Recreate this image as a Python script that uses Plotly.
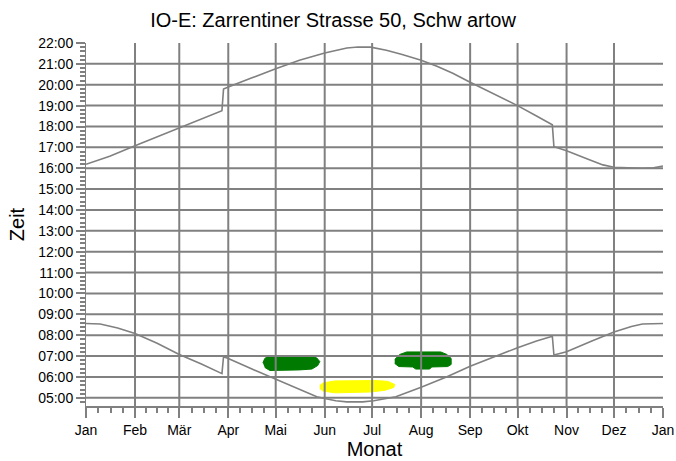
import plotly.graph_objects as go

# Month starts (day of year) and their labels
month_starts = [0, 31, 59, 90, 120, 151, 181, 212, 243, 273, 304, 334, 365]
month_labels = ["Jan", "Feb", "Mär", "Apr", "Mai", "Jun", "Jul", "Aug", "Sep", "Okt", "Nov", "Dez", "Jan"]

# Hour ticks on the time axis
hour_ticks = list(range(5, 23))
hour_labels = [f"{h:02d}:00" for h in hour_ticks]

# Sunset (day of year, hour) incl. daylight-saving jumps
sunset_day = [0, 15, 31, 45, 59, 73, 86, 87, 90, 105, 120, 135, 151, 165, 172, 180, 190, 200,
              212, 222, 232, 243, 258, 273, 285, 295, 296, 304, 316, 327, 334, 345, 352, 359, 362, 365]
sunset_hour = [16.19, 16.58, 17.08, 17.50, 17.95, 18.36, 18.76, 19.79, 19.89, 20.33, 20.77, 21.17,
               21.52, 21.76, 21.81, 21.80, 21.65, 21.45, 21.17, 20.89, 20.55, 20.12, 19.58, 19.00,
               18.50, 18.08, 17.03, 16.84, 16.48, 16.16, 16.05, 16.00, 16.00, 16.02, 16.08, 16.11]

# Sunrise (day of year, hour)
sunrise_day = [0, 9, 20, 31, 45, 59, 73, 86, 87, 90, 105, 120, 135, 146, 151, 158, 165, 175, 182,
               190, 196, 212, 228, 243, 258, 273, 285, 295, 296, 304, 320, 334, 345, 352, 365]
sunrise_hour = [8.56, 8.54, 8.35, 8.08, 7.62, 7.08, 6.62, 6.16, 6.97, 6.89, 6.38, 5.89, 5.42, 5.05,
                4.97, 4.86, 4.81, 4.81, 4.86, 4.96, 5.05, 5.51, 6.00, 6.51, 6.97, 7.40, 7.72, 7.95,
                7.05, 7.21, 7.72, 8.16, 8.42, 8.54, 8.56]

# Shadow periods (outlines in day of year / hour)
shadow_may_day = [111.9, 113.1, 115.7, 135.3, 142.9, 146.0, 147.9, 146.6, 142.9, 135.3, 120.7, 116.3, 113.1]
shadow_may_hour = [6.67, 6.89, 7.01, 7.03, 7.01, 6.91, 6.74, 6.55, 6.38, 6.34, 6.29, 6.31, 6.46]

shadow_aug_day = [195.3, 198.5, 202.9, 224.4, 228.2, 231.0, 231.0, 228.8, 218.7, 217.4, 208.6, 206.7, 197.9, 195.3]
shadow_aug_hour = [6.84, 7.08, 7.20, 7.20, 7.08, 6.89, 6.60, 6.50, 6.48, 6.38, 6.38, 6.48, 6.50, 6.65]

shadow_jun_day = [147.9, 149.8, 157.4, 182.7, 190.9, 195.3, 194.7, 189.1, 179.6, 157.4, 149.8, 147.9]
shadow_jun_hour = [5.59, 5.71, 5.81, 5.83, 5.79, 5.64, 5.50, 5.36, 5.28, 5.24, 5.33, 5.45]

GRID = "#808080"
GREEN = "#007a00"
YELLOW = "#ffff00"
FONT = "Liberation Sans, Arial, sans-serif"

fig = go.Figure()

for xs, ys, col in [(shadow_may_day, shadow_may_hour, GREEN),
                    (shadow_aug_day, shadow_aug_hour, GREEN),
                    (shadow_jun_day, shadow_jun_hour, YELLOW)]:
    fig.add_trace(go.Scatter(x=xs, y=ys, mode="lines", fill="toself", fillcolor=col,
                             line=dict(color=col, width=1), hoverinfo="skip", showlegend=False))

for xs, ys in [(sunset_day, sunset_hour), (sunrise_day, sunrise_hour)]:
    fig.add_trace(go.Scatter(x=xs, y=ys, mode="lines", line=dict(color=GRID, width=1.6),
                             showlegend=False))

# Grid lines (month starts inside the range, whole hours below 22:00)
shapes = []
for d in month_starts[1:-1]:
    shapes.append(dict(type="line", xref="x", yref="paper", x0=d, x1=d, y0=0, y1=1,
                       line=dict(color=GRID, width=2), layer="above"))
for h in hour_ticks[:-1]:
    shapes.append(dict(type="line", xref="paper", yref="y", x0=0, x1=1, y0=h, y1=h,
                       line=dict(color=GRID, width=2), layer="above"))

# Minor ticks: three per month on the date axis
minor_days = []
for a, b in zip(month_starts[:-1], month_starts[1:]):
    minor_days += [a + (b - a) * k / 4 for k in (1, 2, 3)]

fig.update_layout(
    width=676, height=461,
    margin=dict(l=86, r=13, t=43, b=55, autoexpand=False),
    paper_bgcolor="white", plot_bgcolor="white",
    font=dict(family=FONT, color="black"),
    shapes=shapes,
    title=dict(text="IO-E: Zarrentiner Strasse 50, Schw artow", font=dict(size=20, family=FONT),
               xref="container", x=0.4926, xanchor="center", yref="container", y=0.957, yanchor="middle"),
    xaxis=dict(range=[0, 365], tickvals=month_starts, ticktext=month_labels,
               tickfont=dict(size=14), showgrid=False, zeroline=False, automargin=False,
               showline=True, linecolor=GRID, linewidth=2,
               ticks="outside", ticklen=10, tickwidth=1.5, tickcolor=GRID,
               minor=dict(tickvals=minor_days, ticks="outside", ticklen=5, tickwidth=1.5, tickcolor=GRID),
               title=dict(text="Monat", font=dict(size=20), standoff=4)),
    yaxis=dict(range=[4.61, 22], tickvals=hour_ticks, ticktext=hour_labels,
               tickfont=dict(size=14), showgrid=False, zeroline=False, automargin=False,
               showline=True, linecolor=GRID, linewidth=1,
               ticks="outside", ticklen=9, tickwidth=1.5, tickcolor=GRID,
               minor=dict(dtick=0.2, tick0=5, ticks="outside", ticklen=5, tickwidth=1.5, tickcolor=GRID),
               title=dict(text="Zeit", font=dict(size=20), standoff=8)),
)

fig.write_html("out.html")
